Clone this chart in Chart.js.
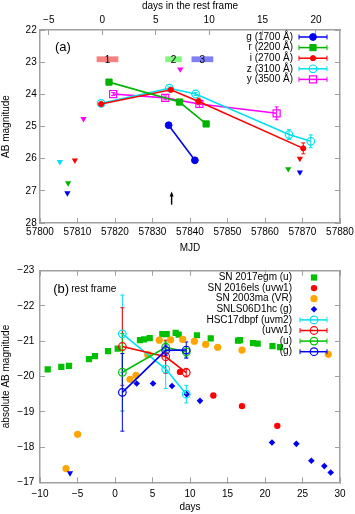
<!DOCTYPE html>
<html>
<head>
<meta charset="utf-8">
<script src="https://cdn.jsdelivr.net/npm/chart.js@4.4.1/dist/chart.umd.min.js"></script>
<style>
  html, body { margin: 0; padding: 0; background: #fff; }
  canvas { display: block; }
</style>
</head>
<body>
<canvas id="chartA" width="355" height="257"></canvas>
<canvas id="chartB" width="355" height="257"></canvas>
<script>
// ---- panel (a): observed light curves (MJD vs AB mag) ----
const gMJD = [57834.3, 57841.3];
const gMag = [24.96, 26.05];
const rMJD = [57818.4, 57837.2, 57844.3];
const rMag = [23.62, 24.24, 24.92];
const iMJD = [57816.3, 57834.9, 57842.3, 57870.2];
const iMag = [24.30, 23.86, 24.22, 25.68];
const iErr = [0.03, 0.05, 0.1, 0.17];
const zMJD = [57816.3, 57834.5, 57841.5, 57866.4, 57872.2];
const zMag = [24.28, 23.81, 23.99, 25.25, 25.46];
const zErr = [0.03, 0.04, 0.05, 0.15, 0.2];
const yMJD = [57819.5, 57833.4, 57842.5, 57863.1];
const yMag = [23.99, 24.11, 24.30, 24.59];
const yErr = [0.05, 0.06, 0.1, 0.2];

// upper limits (down triangles)
const gLimMJD = [57807.3, 57869.3];
const gLimMag = [27.07, 26.42];
const rLimMJD = [57807.5, 57866.2];
const rLimMag = [26.76, 26.32];
const iLimMJD = [57809.3, 57869.3];
const iLimMag = [26.05, 26.0];
const zLimMJD = [57805.3];
const zLimMag = [26.10];
const yLimMJD = [57811.6, 57837.4];
const yLimMag = [24.76, 23.22];

// spectroscopic epochs
const epochLabels = ["1", "2", "3"];
const epochStart = [57815.1, 57833.4, 57840.4];
const epochEnd = [57820.9, 57837.8, 57846.2];
const epochColors = ["#f58080", "#80f580", "#8080f5"];
const epochTop = 22.82, epochBottom = 23.0;
const arrowMJD = 57835.1, arrowTail = 27.43, arrowHead = 27.02;

const mjdMin = 57800, mjdMax = 57880;
const restZeroMJD = 57816.6, onePlusZ = 2.85;

// ---- panel (b): rest frame absolute magnitudes ----
const egmDay = [-8.97, -7.16, -6.13, -3.47, -2.67, -0.93, 0.36, 3.33, 3.87, 4.63, 6.31, 6.89, 8.09, 8.49, 10.93, 12.76, 16.4, 16.67, 18.4, 19.02, 21.0, 22.0];
const egmMag = [-20.20, -20.27, -20.30, -20.49, -20.58, -20.72, -20.79, -21.03, -21.05, -21.09, -21.20, -21.20, -21.24, -21.19, -21.17, -21.08, -21.02, -21.03, -20.95, -20.93, -20.86, -20.83];
const elsDay = [8.67, 13.11, 16.93, 21.64];
const elsMag = [-20.13, -19.46, -19.16, -18.60];
const maDay = [-6.53, -4.98, 2.0, 2.8, 4.36, 5.9, 7.42, 9.03, 10.58, 12.09, 13.69, 16.93, 28.44];
const maMag = [-17.39, -18.36, -19.92, -20.03, -20.62, -21.03, -21.04, -21.05, -21.0, -20.91, -20.83, -20.75, -20.63];
const d1hcDay = [2.89, 5.07, 7.6, 9.56, 11.33, 20.93, 24.18, 26.18, 27.91, 28.76];
const d1hcMag = [-19.80, -19.80, -19.73, -19.50, -19.31, -18.13, -18.09, -17.61, -17.46, -17.28];
const d1hcLimDay = [-6.0];
const d1hcLimMag = [-17.26];

const hscDay = [0.98, 6.76, 9.5];
const uvm2Mag = [-21.21, -20.21, -19.50];
const uvm2Err = [1.1, 0.55, 0.25];
const uvw1Mag = [-20.85, -20.56, -20.11];
const uvw1Err = [1.1, 0.47, 0.12];
const uMag = [-20.12, -20.83, -20.70];
const uErr = [1.1, 0.15, 0.15];
const gRestMag = [-19.55, -20.74, -20.75];
const gRestErr = [1.1, 0.15, 0.23];

// colours
const cBlue = "#0000f0", cGreen = "#00b400", cRed = "#ff0000", cCyan = "#00e0ee", cMag = "#ff00ff";
const cOrange = "#ffa500", cGreenB = "#00c000";
const frameColor = "#a0a0a0";
const FONT = '"Liberation Sans", Arial, sans-serif';

Chart.defaults.font.family = FONT;
Chart.defaults.font.size = 10;
Chart.defaults.color = "#000";

function pts(xs, ys) {
    return xs.map((x, i) => ({ x: x, y: ys[i] }));
}

function curve(label, xs, ys, color, style, radius, open, err) {
    return {
        label: label,
        data: pts(xs, ys),
        yErr: err,
        showLine: true,
        borderColor: color,
        backgroundColor: color,
        pointBackgroundColor: open ? "rgba(0,0,0,0)" : color,
        pointBorderColor: color,
        pointStyle: style,
        pointRadius: radius,
        pointHoverRadius: radius,
        pointBorderWidth: open ? 1.2 : 1,
        borderWidth: 1.6,
    };
}

function dots(label, xs, ys, color, style, radius, rotation) {
    return {
        label: label,
        data: pts(xs, ys),
        showLine: false,
        borderColor: color,
        backgroundColor: color,
        pointBackgroundColor: color,
        pointBorderColor: color,
        pointStyle: style,
        pointRadius: radius,
        pointHoverRadius: radius,
        pointBorderWidth: 0,
        rotation: rotation || 0,
    };
}

// fixed box sizes so the plot areas land where the reference has them
function fixSize(size) {
    return function (scale) {
        if (scale.isHorizontal()) scale.height = size;
        else scale.width = size;
        scale.paddingLeft = scale.paddingRight = scale.paddingTop = scale.paddingBottom = 0;
    };
}

// plain numbers, no thousands separator, real minus sign
function plain(v) {
    return String(v).replace("-", "\u2212");
}

function axis(extra) {
    return Object.assign({
        type: "linear",
        grid: { drawOnChartArea: false, drawTicks: true, tickLength: -5, color: frameColor, lineWidth: 1 },
        border: { color: frameColor, width: 1.5 },
    }, extra);
}

// error bars drawn through the chart scales
const errorBars = {
    id: "errorBars",
    beforeDatasetsDraw(chart) {
        const ctx = chart.ctx;
        const xs = chart.scales.x, ys = chart.scales.y;
        chart.data.datasets.forEach((ds) => {
            if (!ds.yErr) return;
            ctx.save();
            ctx.strokeStyle = ds.borderColor;
            ctx.lineWidth = 1;
            ds.data.forEach((p, i) => {
                const e = ds.yErr[i];
                if (!e) return;
                const px = xs.getPixelForValue(p.x);
                const y1 = ys.getPixelForValue(p.y - e);
                const y2 = ys.getPixelForValue(p.y + e);
                ctx.beginPath();
                ctx.moveTo(px, y1); ctx.lineTo(px, y2);
                ctx.moveTo(px - 2, y1); ctx.lineTo(px + 2, y1);
                ctx.moveTo(px - 2, y2); ctx.lineTo(px + 2, y2);
                ctx.stroke();
            });
            ctx.restore();
        });
    },
};

function drawMark(ctx, ds, x, y) {
    ctx.fillStyle = ds.pointBackgroundColor;
    ctx.strokeStyle = ds.pointBorderColor;
    ctx.lineWidth = ds.pointBorderWidth;
    Chart.helpers.drawPoint(ctx, {
        pointStyle: ds.pointStyle,
        radius: ds.pointRadius,
        rotation: ds.rotation || 0,
        borderWidth: ds.pointBorderWidth,
    }, x, y);
}

// gnuplot-like key: right aligned text, then sample
function makeKey(id, items, layout) {
    return {
        id: id,
        afterDraw(chart) {
            const ctx = chart.ctx;
            ctx.save();
            ctx.font = "10px " + FONT;
            ctx.textAlign = "right";
            ctx.textBaseline = "middle";
            items.forEach((it, i) => {
                const yy = layout.top + i * layout.step;
                const ds = chart.data.datasets[it.ds];
                ctx.fillStyle = "#000";
                ctx.fillText(it.text, layout.textRight, yy);
                if (it.line) {
                    ctx.strokeStyle = ds.borderColor;
                    ctx.lineWidth = 1.5;
                    ctx.beginPath();
                    ctx.moveTo(layout.lineLeft, yy); ctx.lineTo(layout.lineRight, yy);
                    ctx.stroke();
                    ctx.lineWidth = 1;
                    ctx.beginPath();
                    ctx.moveTo(layout.lineLeft, yy - 2.5); ctx.lineTo(layout.lineLeft, yy + 2.5);
                    ctx.moveTo(layout.lineRight, yy - 2.5); ctx.lineTo(layout.lineRight, yy + 2.5);
                    ctx.stroke();
                }
                drawMark(ctx, ds, layout.mark, yy);
            });
            ctx.restore();
        },
    };
}

// ---------------- chart (a) ----------------
const dsA = [
    curve("g (1700 Å)", gMJD, gMag, cBlue, "circle", 3.4, false, null),
    curve("r (2200 Å)", rMJD, rMag, cGreen, "rect", 4.4, false, null),
    curve("i (2700 Å)", iMJD, iMag, cRed, "circle", 2.6, false, iErr),
    curve("z (3100 Å)", zMJD, zMag, cCyan, "circle", 3.8, true, zErr),
    curve("y (3500 Å)", yMJD, yMag, cMag, "rect", 5, true, yErr),
    dots("g lim", gLimMJD, gLimMag, cBlue, "triangle", 3.6, 180),
    dots("r lim", rLimMJD, rLimMag, cGreen, "triangle", 3.6, 180),
    dots("i lim", iLimMJD, iLimMag, cRed, "triangle", 3.6, 180),
    dots("z lim", zLimMJD, zLimMag, cCyan, "triangle", 3.6, 180),
    dots("y lim", yLimMJD, yLimMag, cMag, "triangle", 3.6, 180),
];

const notesA = {
    id: "notesA",
    beforeDatasetsDraw(chart) {
        const { ctx, scales: { x, y } } = chart;
        ctx.save();
        epochLabels.forEach((lab, i) => {
            const x1 = x.getPixelForValue(epochStart[i]);
            const x2 = x.getPixelForValue(epochEnd[i]);
            const y1 = y.getPixelForValue(epochTop);
            const y2 = y.getPixelForValue(epochBottom);
            ctx.fillStyle = epochColors[i];
            ctx.fillRect(x1, y1, x2 - x1, y2 - y1);
            ctx.fillStyle = "#000";
            ctx.font = "10px " + FONT;
            ctx.textAlign = "center";
            ctx.textBaseline = "middle";
            ctx.fillText(lab, (x1 + x2) / 2, (y1 + y2) / 2 + 0.5);
        });
        ctx.restore();
    },
    afterDatasetsDraw(chart) {
        const { ctx, scales: { x, y } } = chart;
        ctx.save();
        // arrow
        const ax = x.getPixelForValue(arrowMJD);
        const ay1 = y.getPixelForValue(arrowTail), ay2 = y.getPixelForValue(arrowHead);
        ctx.strokeStyle = "#000";
        ctx.fillStyle = "#000";
        ctx.lineWidth = 1.4;
        ctx.beginPath();
        ctx.moveTo(ax, ay1); ctx.lineTo(ax, ay2 + 3);
        ctx.stroke();
        ctx.beginPath();
        ctx.moveTo(ax, ay2); ctx.lineTo(ax - 2, ay2 + 5); ctx.lineTo(ax + 2, ay2 + 5);
        ctx.closePath();
        ctx.fill();
        // panel label
        ctx.font = "13px " + FONT;
        ctx.textAlign = "center";
        ctx.textBaseline = "middle";
        ctx.fillText("(a)", x.getPixelForValue(57806.1), y.getPixelForValue(22.53));
        ctx.restore();
    },
};

const keyA = makeKey("keyA", [
    { text: "g (1700 Å)", ds: 0, line: true },
    { text: "r (2200 Å)", ds: 1, line: true },
    { text: "i (2700 Å)", ds: 2, line: true },
    { text: "z (3100 Å)", ds: 3, line: true },
    { text: "y (3500 Å)", ds: 4, line: true },
], { top: 37, step: 10.6, textRight: 293, lineLeft: 299, lineRight: 327, mark: 313 });

new Chart(document.getElementById("chartA"), {
    type: "scatter",
    data: { datasets: dsA },
    options: {
        responsive: false,
        animation: false,
        devicePixelRatio: 1,
        events: [],
        layout: { padding: 0 },
        plugins: { legend: { display: false }, tooltip: { enabled: false } },
        scales: {
            x: axis({
                position: "bottom", min: mjdMin, max: mjdMax,
                ticks: { stepSize: 10, padding: 8.5, maxRotation: 0, includeBounds: false, callback: plain },
                title: { display: true, text: "MJD", padding: { top: 0, bottom: 2.7 } },
                afterFit: fixSize(34),
            }),
            xTop: axis({
                position: "top",
                min: (mjdMin - restZeroMJD) / onePlusZ,
                max: (mjdMax - restZeroMJD) / onePlusZ,
                ticks: { stepSize: 5, padding: 8.3, maxRotation: 0, includeBounds: false, callback: plain },
                title: { display: true, text: "days in the rest frame", padding: { top: 0, bottom: 0 } },
                afterFit: fixSize(30),
            }),
            y: axis({
                position: "left", reverse: true, min: 22, max: 28,
                ticks: { stepSize: 1, padding: 8.3, callback: plain },
                title: { display: true, text: "AB magnitude", padding: { top: 0, bottom: 0 } },
                afterFit: fixSize(40),
            }),
            yRight: axis({
                position: "right", reverse: true, min: 22, max: 28,
                ticks: { stepSize: 1, display: false },
                afterFit: fixSize(15),
            }),
        },
    },
    plugins: [errorBars, notesA, keyA],
});

// ---------------- chart (b) ----------------
const dsB = [
    dots("SN 2017egm (u)", egmDay, egmMag, cGreenB, "rect", 4.4),
    dots("SN 2016els (uvw1)", elsDay, elsMag, cRed, "circle", 3.2),
    dots("SN 2003ma (VR)", maDay, maMag, cOrange, "circle", 3.6),
    dots("SNLS06D1hc (g)", d1hcDay, d1hcMag, cBlue, "rectRot", 3.3),
    dots("SNLS06D1hc lim", d1hcLimDay, d1hcLimMag, cBlue, "triangle", 3.6, 180),
    curve("HSC17dbpf (uvm2)", hscDay, uvm2Mag, cCyan, "circle", 3.8, true, uvm2Err),
    curve("(uvw1)", hscDay, uvw1Mag, cRed, "circle", 3.8, true, uvw1Err),
    curve("(u)", hscDay, uMag, cGreenB, "circle", 3.8, true, uErr),
    curve("(g)", hscDay, gRestMag, cBlue, "circle", 3.8, true, gRestErr),
];
// later entries on top, as in the original plot
dsB.forEach((d, i) => { d.order = dsB.length - i; });

const notesB = {
    id: "notesB",
    afterDatasetsDraw(chart) {
        const { ctx, scales: { x, y } } = chart;
        ctx.save();
        ctx.fillStyle = "#000";
        ctx.textBaseline = "middle";
        ctx.textAlign = "left";
        const px = x.getPixelForValue(-8.23), py = y.getPixelForValue(-22.48);
        ctx.font = "13px " + FONT;
        ctx.fillText("(b)", px, py);
        ctx.font = "10px " + FONT;
        ctx.fillText("rest frame", px + 18, py);
        ctx.restore();
    },
};

const keyB = makeKey("keyB", [
    { text: "SN 2017egm (u)", ds: 0, line: false },
    { text: "SN 2016els (uvw1)", ds: 1, line: false },
    { text: "SN 2003ma (VR)", ds: 2, line: false },
    { text: "SNLS06D1hc (g)", ds: 3, line: false },
    { text: "HSC17dbpf (uvm2)", ds: 5, line: true },
    { text: "(uvw1)", ds: 6, line: true },
    { text: "(u)", ds: 7, line: true },
    { text: "(g)", ds: 8, line: true },
], { top: 277.5 - 257, step: 10.6, textRight: 292, lineLeft: 300, lineRight: 327, mark: 314 });

new Chart(document.getElementById("chartB"), {
    type: "scatter",
    data: { datasets: dsB },
    options: {
        responsive: false,
        animation: false,
        devicePixelRatio: 1,
        events: [],
        layout: { padding: 0 },
        plugins: { legend: { display: false }, tooltip: { enabled: false } },
        scales: {
            x: axis({
                position: "bottom", min: -10, max: 30,
                ticks: { stepSize: 5, padding: 10.7, maxRotation: 0, callback: plain },
                title: { display: true, text: "days", padding: { top: 0, bottom: 0.5 } },
                afterFit: fixSize(31.7),
            }),
            xTop: axis({
                position: "top", min: -10, max: 30,
                ticks: { stepSize: 5, display: false },
                afterFit: fixSize(13.7),
            }),
            y: axis({
                position: "left", reverse: true, min: -23, max: -17,
                ticks: { stepSize: 1, padding: 10.7, callback: plain },
                title: { display: true, text: "absolute AB magnitude", padding: { top: 0.7, bottom: 0 } },
                afterFit: fixSize(40),
            }),
            yRight: axis({
                position: "right", reverse: true, min: -23, max: -17,
                ticks: { stepSize: 1, display: false },
                afterFit: fixSize(15),
            }),
        },
    },
    plugins: [errorBars, notesB, keyB],
});
</script>
</body>
</html>
